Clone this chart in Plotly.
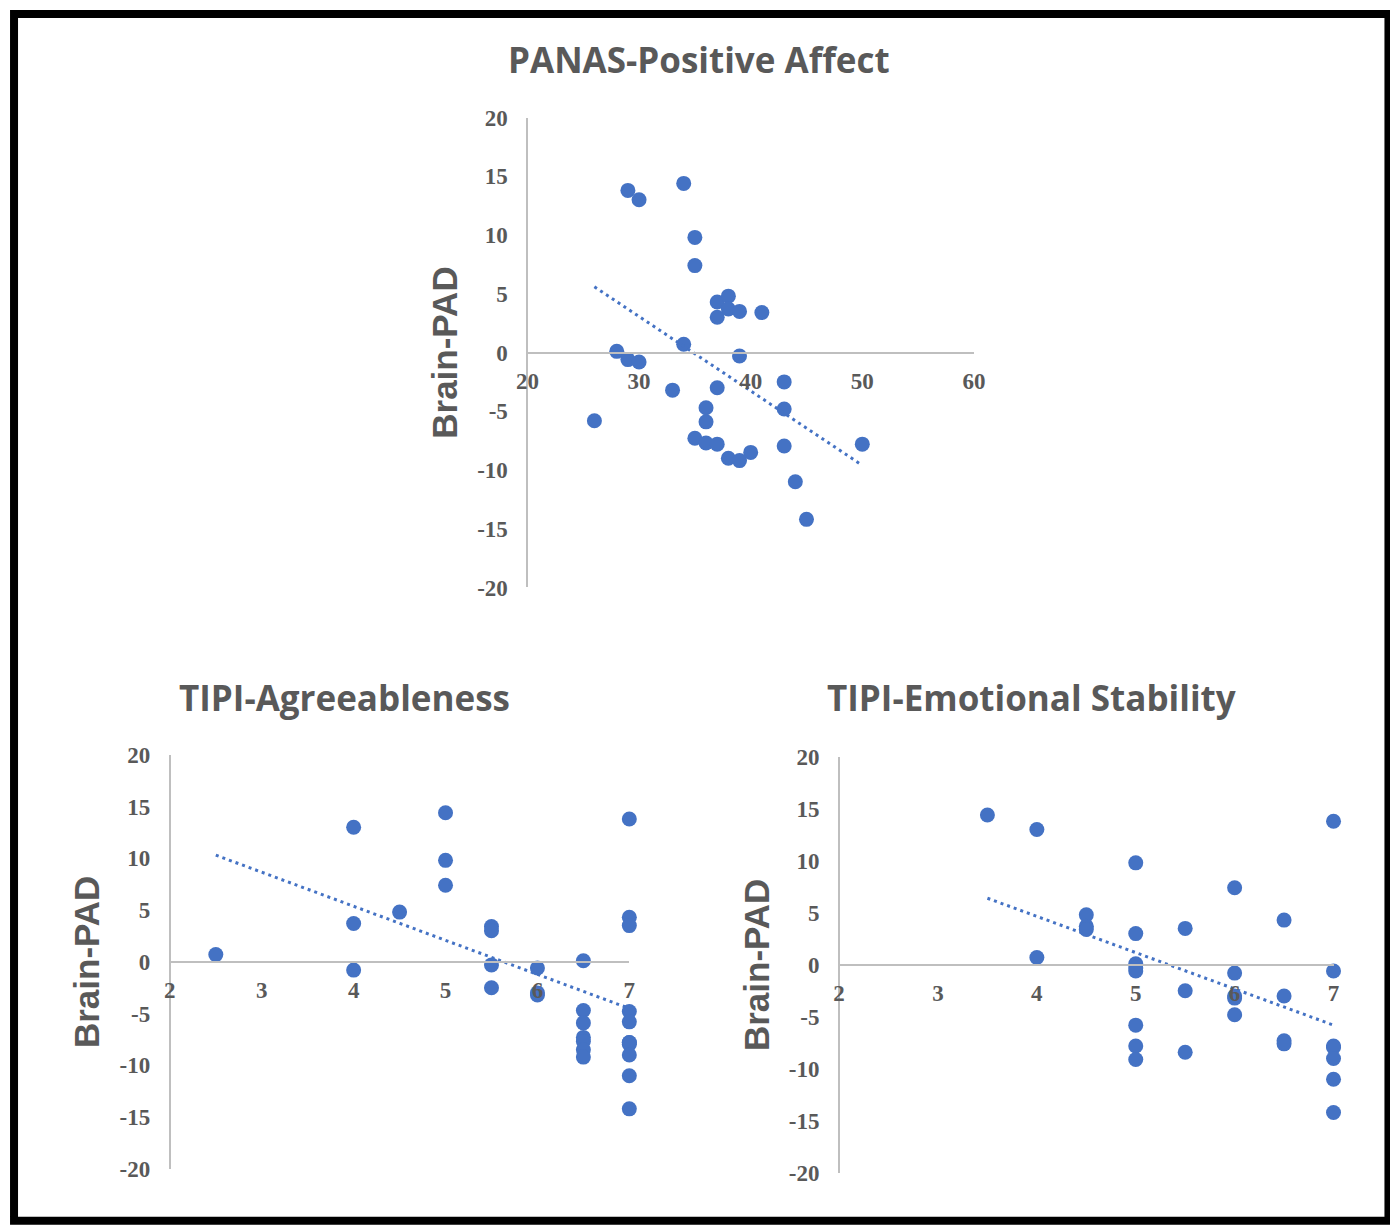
import plotly.graph_objects as go

W, H = 1398, 1226          # reference picture size
# the photographed page is slightly padded and scaled; map picture px -> figure px
K, C = 0.984, 20.3
WF = int(round(W / K - C)) + 1
HF = int(round(H / K - C)) + 1

# ---------- data ----------
panas_x = [29, 30, 34, 35, 35, 37, 38, 38, 39, 37, 41, 34, 28, 29, 30, 39, 43, 33, 37, 36, 43, 26,
           36, 35, 36, 37, 43, 50, 38, 39, 40, 44, 45]
panas_y = [13.8, 13.0, 14.4, 9.8, 7.4, 4.3, 4.8, 3.7, 3.5, 3.0, 3.4, 0.7, 0.1, -0.6, -0.8, -0.3, -2.5,
           -3.2, -3.0, -4.7, -4.8, -5.8, -5.9, -7.3, -7.7, -7.8, -7.95, -7.8, -9.0, -9.2, -8.5, -11.0, -14.2]
panas_trend_x = [26, 50]
panas_trend_y = [5.6, -9.6]

agree_x = [2.5, 4, 4, 4, 4.5, 5, 5, 5, 5.5, 5.5, 5.5, 5.5, 6, 6, 6,
           6.5, 6.5, 6.5, 6.5, 6.5, 6.5, 6.5, 7, 7, 7, 7, 7, 7, 7, 7, 7, 7, 7]
agree_y = [0.7, 13.0, 3.7, -0.8, 4.8, 14.4, 9.8, 7.4, 3.4, 3.0, -0.3, -2.5, -0.6, -3.0, -3.2,
           0.1, -4.7, -5.9, -7.3, -7.7, -8.5, -9.2, 13.8, 4.3, 3.5, -4.8, -5.8, -7.8, -7.95, -7.8, -9.0, -11.0, -14.2]
agree_trend_x = [2.5, 7]
agree_trend_y = [10.3, -4.5]

emo_x = [3.5, 4, 4, 4.5, 4.5, 4.5, 5, 5, 5, 5, 5, 5, 5, 5, 5.5, 5.5, 5.5, 6, 6, 6, 6, 6,
         6.5, 6.5, 6.5, 6.5, 7, 7, 7, 7, 7, 7, 7]
emo_y = [14.4, 13.0, 0.7, 4.8, 3.7, 3.4, 9.8, 3.0, 0.1, -0.3, -0.6, -5.8, -7.8, -9.1, 3.5, -2.5, -8.4,
         7.4, -0.8, -3.0, -3.2, -4.8, 4.3, -3.0, -7.3, -7.6, 13.8, -0.6, -7.8, -7.95, -9.0, -11.0, -14.2]
emo_trend_x = [3.5, 7]
emo_trend_y = [6.4, -5.8]

titles = ["PANAS-Positive Affect", "TIPI-Agreeableness", "TIPI-Emotional Stability"]
y_title = "Brain-PAD"
y_ticks = [-20, -15, -10, -5, 0, 5, 10, 15, 20]
y_tick_labels = ["-20", "-15", "-10", "-5", "0", "5", "10", "15", "20"]
panas_xticks = [20, 30, 40, 50, 60]
tipi_xticks = [2, 3, 4, 5, 6, 7]

# ---------- style ----------
BLUE = "#4472C4"
GREY_TXT = "#595959"
AXIS_GREY = "#BFBFBF"


def fx(s):
    return s / K - C


def px(s):
    return fx(s) / WF


def py(s):
    return 1 - fx(s) / HF


# plot-area boxes in picture px: (left, right, top, bottom)
boxes = [
    (528, 975, 118, 590),
    (170, 630, 758, 1174),
    (840, 1335, 760, 1178),
]
xranges = [[20, 60], [2, 7], [2, 7]]
xticks_list = [panas_xticks, tipi_xticks, tipi_xticks]
data = [
    (panas_x, panas_y, panas_trend_x, panas_trend_y),
    (agree_x, agree_y, agree_trend_x, agree_trend_y),
    (emo_x, emo_y, emo_trend_x, emo_trend_y),
]

fig = go.Figure()
tick_font = dict(family="Liberation Serif", size=23, color=GREY_TXT, weight="bold")

for i, (box, xr, xt, d) in enumerate(zip(boxes, xranges, xticks_list, data)):
    n = "" if i == 0 else str(i + 1)
    l, r, t, b = box
    xd = [px(l), px(r)]
    yd = [py(b), py(t)]
    xs, ys, tx, ty = d
    fig.add_trace(go.Scatter(x=xs, y=ys, mode="markers", cliponaxis=False,
                             marker=dict(color=BLUE, size=15, line=dict(width=0)),
                             xaxis="x" + n, yaxis="y" + n, showlegend=False))
    fig.add_trace(go.Scatter(x=tx, y=ty, mode="lines", cliponaxis=False,
                             line=dict(color=BLUE, width=3, dash="3px,4px"),
                             xaxis="x" + n, yaxis="y" + n, showlegend=False))
    zero_pos = (yd[0] + yd[1]) / 2
    fig.layout["xaxis" + n] = dict(
        domain=xd, range=xr, anchor="free", position=zero_pos,
        showgrid=False, zeroline=False, showline=True, linecolor=AXIS_GREY, linewidth=2,
        tickvals=xt, ticktext=[str(v) for v in xt], ticks="", tickfont=tick_font,
        ticklabelstandoff=8,
    )
    fig.layout["yaxis" + n] = dict(
        domain=yd, range=[-20, 20], anchor="free", position=xd[0],
        showgrid=False, zeroline=False, showline=True, linecolor=AXIS_GREY, linewidth=2,
        tickvals=y_ticks, ticktext=y_tick_labels, ticks="", tickfont=tick_font,
        ticklabelstandoff=14,
        title=dict(text=y_title, font=dict(family="Liberation Sans", size=35,
                                           color=GREY_TXT, weight="bold"), standoff=8),
    )

# chart titles
title_pos = [(700, 60), (345, 700), (1033, 700)]
for txt, (tx, ty) in zip(titles, title_pos):
    fig.add_annotation(text=txt, x=px(tx), y=py(ty), xref="paper", yref="paper",
                       showarrow=False, xanchor="center", yanchor="middle",
                       font=dict(family="Open Sans", size=35, color=GREY_TXT, weight="bold"))

# outer frame
fig.add_shape(type="rect", xref="paper", yref="paper",
              x0=px(14), x1=px(1390), y0=py(1226), y1=py(14),
              line=dict(color="black", width=8), fillcolor="rgba(0,0,0,0)")

fig.update_layout(width=WF, height=HF, margin=dict(l=0, r=0, t=0, b=0),
                  paper_bgcolor="white", plot_bgcolor="white")

fig.write_html("out.html")
